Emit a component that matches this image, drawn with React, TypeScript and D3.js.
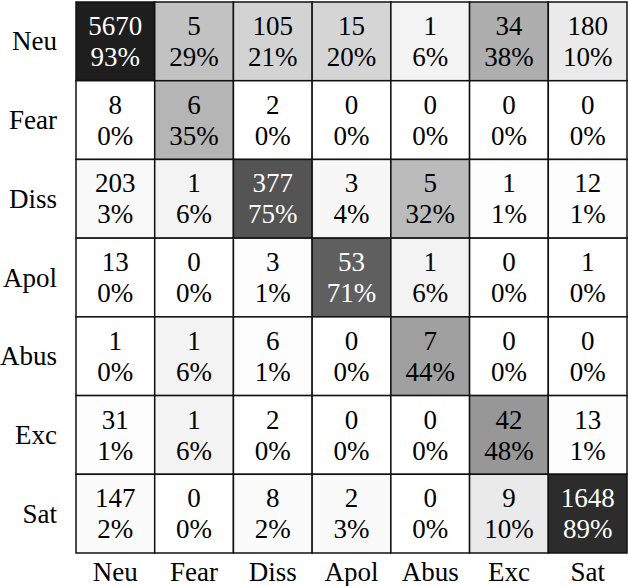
import React from "react";
import * as d3 from "d3";

const labels = ["Neu", "Fear", "Diss", "Apol", "Abus", "Exc", "Sat"];

// rows = true class, columns = predicted
const counts = [
  [5670, 5, 105, 15, 1, 34, 180],
  [8, 6, 2, 0, 0, 0, 0],
  [203, 1, 377, 3, 5, 1, 12],
  [13, 0, 3, 53, 1, 0, 1],
  [1, 1, 6, 0, 7, 0, 0],
  [31, 1, 2, 0, 0, 42, 13],
  [147, 0, 8, 2, 0, 9, 1648],
];

const percents = [
  [93, 29, 21, 20, 6, 38, 10],
  [0, 35, 0, 0, 0, 0, 0],
  [3, 6, 75, 4, 32, 1, 1],
  [0, 0, 1, 71, 6, 0, 0],
  [0, 6, 1, 0, 44, 0, 0],
  [1, 6, 0, 0, 0, 48, 1],
  [2, 0, 2, 3, 0, 10, 89],
];

const W = 628;
const H = 586;
const FONT = "Liberation Serif";

export default function App() {
  const x = d3.scaleBand().domain(labels).range([76, 627]);
  const y = d3.scaleBand().domain(labels).range([2, 553]);
  // darker as the percentage grows, slightly bent
  const shade = d3.scalePow().exponent(0.8).domain([0, 1]).range([0, 255]);
  const gray = (p) => Math.round(shade(1 - p / 100));

  const cells = [];
  labels.forEach((r, i) => {
    labels.forEach((c, j) => {
      cells.push({ r, c, n: counts[i][j], p: percents[i][j] });
    });
  });

  const textStyle = { fontFamily: FONT, fontSize: 27 };

  return (
    <svg width={W} height={H} style={{ position: "absolute", left: 0, top: 0 }}>
      <rect width={W} height={H} fill="#fff" />
      {cells.map((d, k) => {
        const g = gray(d.p);
        const cx = x(d.c) + x.bandwidth() / 2;
        const top = y(d.r);
        const txt = d.p > 60 ? "#fff" : "#000";
        return (
          <g key={k}>
            <rect
              x={x(d.c)}
              y={top}
              width={x.bandwidth()}
              height={y.bandwidth()}
              fill={`rgb(${g},${g},${g})`}
              stroke="#111"
              strokeWidth={1.5}
            />
            <text x={cx} y={top + 33} textAnchor="middle" fill={txt} style={textStyle}>
              {d.n}
            </text>
            <text x={cx} y={top + 64} textAnchor="middle" fill={txt} style={textStyle}>
              {d.p}%
            </text>
          </g>
        );
      })}
      {labels.map((l) => (
        <text
          key={"r" + l}
          x={57}
          y={y(l) + y.bandwidth() / 2 + 9}
          textAnchor="end"
          style={textStyle}
        >
          {l}
        </text>
      ))}
      {labels.map((l) => (
        <text
          key={"c" + l}
          x={x(l) + x.bandwidth() / 2}
          y={581}
          textAnchor="middle"
          style={textStyle}
        >
          {l}
        </text>
      ))}
    </svg>
  );
}
